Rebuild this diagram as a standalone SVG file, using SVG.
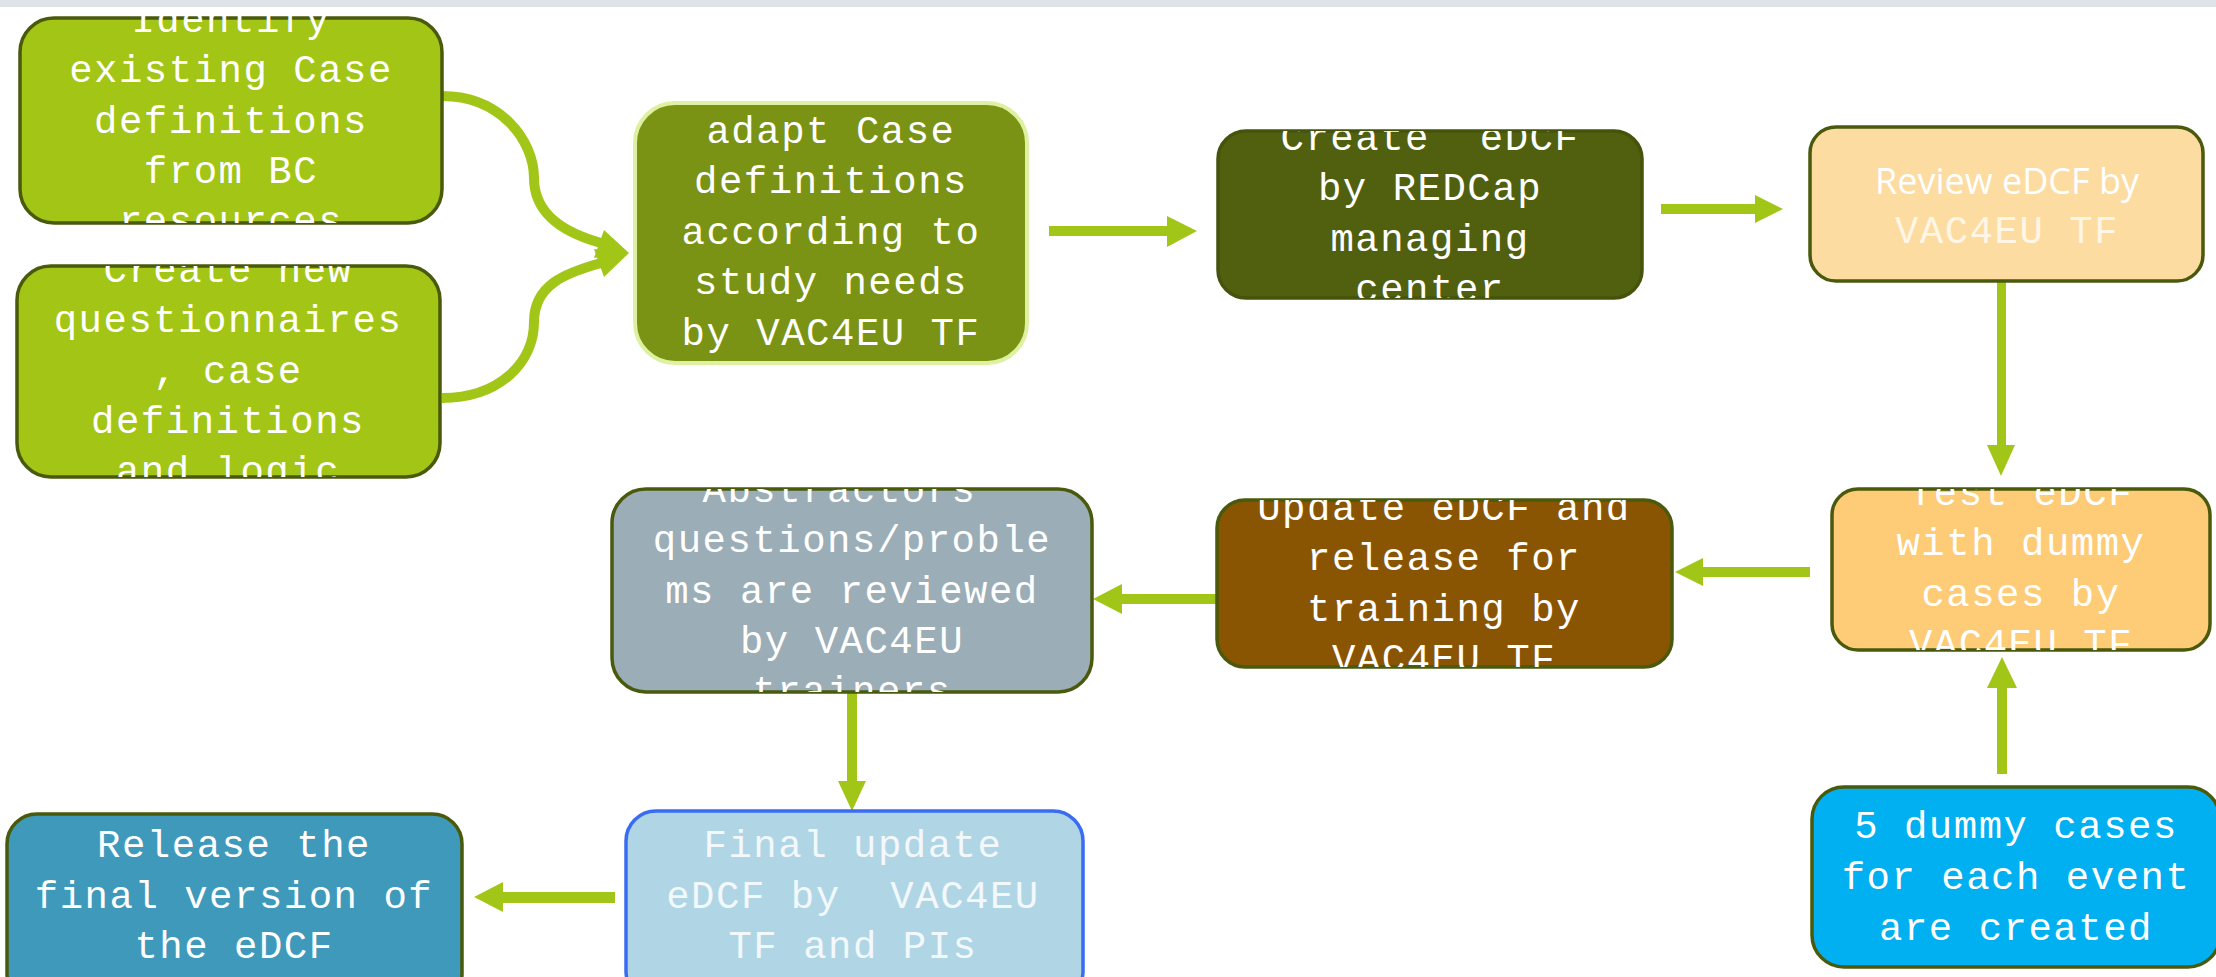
<svg xmlns="http://www.w3.org/2000/svg" width="2216" height="977" viewBox="0 0 2216 977">
<style>
.box{stroke:#4a5a0c;stroke-width:3.5}
.t{font-family:"Liberation Mono","Courier New",monospace;font-size:39px;letter-spacing:1.5px;fill:#ffffff;text-anchor:middle}
.s{font-family:"Open Sans","Liberation Sans",sans-serif;font-size:36px;fill:#ffffff;text-anchor:middle}
.arr{fill:#a2c617}
.crv{fill:none;stroke:#a2c617;stroke-width:10}
</style>
<defs>
<clipPath id="c1"><rect x="20" y="12" width="422" height="211"/></clipPath>
<clipPath id="c2"><rect x="17" y="266" width="423" height="211"/></clipPath>
<clipPath id="c3"><rect x="635" y="103" width="392" height="260"/></clipPath>
<clipPath id="c4"><rect x="1218" y="131" width="424" height="167"/></clipPath>
<clipPath id="c5"><rect x="1810" y="127" width="393" height="154"/></clipPath>
<clipPath id="c6"><rect x="1832" y="489" width="378" height="161"/></clipPath>
<clipPath id="c7"><rect x="1217" y="500" width="455" height="167"/></clipPath>
<clipPath id="c8"><rect x="612" y="489" width="480" height="203"/></clipPath>
</defs>
<rect x="0" y="0" width="2216" height="977" fill="#ffffff"/>
<rect x="0" y="0" width="2216" height="7" fill="#dde3e8"/>

<g id="connectors">
<path class="crv" d="M 442,96 C 500,96 534,140 534,178 C 534,215 565,233 601,243"/>
<polygon class="arr" points="629,253 594,258 604,230"/>
<path class="crv" d="M 442,398 C 500,398 534,362 534,322 C 534,285 565,273 601,263"/>
<polygon class="arr" points="629,253 604,277 594,249"/>
<rect class="arr" x="1049" y="226" width="120" height="10"/>
<polygon class="arr" points="1167,216 1197,231 1167,247"/>
<rect class="arr" x="1661" y="204" width="96" height="10"/>
<polygon class="arr" points="1755,195 1783,209 1755,223"/>
<rect class="arr" x="1997" y="281" width="9" height="166"/>
<polygon class="arr" points="1987,445 2001,476 2015,445"/>
<rect class="arr" x="1701" y="567" width="109" height="10"/>
<polygon class="arr" points="1703,558 1675,572 1703,586"/>
<rect class="arr" x="1120" y="594" width="97" height="10"/>
<polygon class="arr" points="1122,584 1093,599 1122,614"/>
<rect class="arr" x="847" y="693" width="10" height="90"/>
<polygon class="arr" points="838,781 852,811 866,781"/>
<rect class="arr" x="501" y="892" width="114" height="11"/>
<polygon class="arr" points="503,882 474,897 503,912"/>
<rect class="arr" x="1997" y="686" width="10" height="88"/>
<polygon class="arr" points="1987,688 2002,657 2017,688"/>
</g>

<g id="n1">
<rect class="box" x="20" y="18" width="422" height="205" rx="34" fill="#a3c516"/>
<g clip-path="url(#c1)">
<text class="t" x="231" y="32">Identify</text>
<text class="t" x="231" y="82">existing Case</text>
<text class="t" x="231" y="133">definitions</text>
<text class="t" x="231" y="183">from BC</text>
<text class="t" x="231" y="233">resources</text>
</g>
</g>

<g id="n2">
<rect class="box" x="17" y="266" width="423" height="211" rx="34" fill="#a3c516"/>
<g clip-path="url(#c2)">
<text class="t" x="228" y="282">Create new</text>
<text class="t" x="228" y="332">questionnaires</text>
<text class="t" x="228" y="383">, case</text>
<text class="t" x="228" y="433">definitions</text>
<text class="t" x="228" y="483">and logic</text>
</g>
</g>

<g id="n3">
<rect x="635" y="103" width="392" height="260" rx="40" fill="#7a9314" stroke="#def1a0" stroke-width="4"/>
<g clip-path="url(#c3)">
<text class="t" x="831" y="143">adapt Case</text>
<text class="t" x="831" y="193">definitions</text>
<text class="t" x="831" y="244">according to</text>
<text class="t" x="831" y="294">study needs</text>
<text class="t" x="831" y="345">by VAC4EU TF</text>
</g>
</g>

<g id="n4">
<rect x="1218" y="131" width="424" height="167" rx="28" fill="#50600f" stroke="#44540c" stroke-width="3.5"/>
<g clip-path="url(#c4)">
<text class="t" x="1430" y="150" xml:space="preserve">Create  eDCF</text>
<text class="t" x="1430" y="200">by REDCap</text>
<text class="t" x="1430" y="251">managing</text>
<text class="t" x="1430" y="301">center</text>
</g>
</g>

<g id="n5">
<rect class="box" x="1810" y="127" width="393" height="154" rx="26" fill="#fddca1"/>
<g clip-path="url(#c5)">
<text class="s" x="2007" y="194">Review eDCF by</text>
<text class="t" x="2007" y="243" style="fill:#fff6e6">VAC4EU TF</text>
</g>
</g>

<g id="n6">
<rect class="box" x="1832" y="489" width="378" height="161" rx="26" fill="#fecb77"/>
<g clip-path="url(#c6)">
<text class="t" x="2021" y="505">Test eDCF</text>
<text class="t" x="2021" y="555">with dummy</text>
<text class="t" x="2021" y="606">cases by</text>
<text class="t" x="2021" y="656">VAC4EU TF</text>
</g>
</g>

<g id="n7">
<rect class="box" x="1217" y="500" width="455" height="167" rx="28" fill="#8a5502"/>
<g clip-path="url(#c7)">
<text class="t" x="1444" y="520">Update eDCF and</text>
<text class="t" x="1444" y="570">release for</text>
<text class="t" x="1444" y="621">training by</text>
<text class="t" x="1444" y="671">VAC4EU TF</text>
</g>
</g>

<g id="n8">
<rect class="box" x="612" y="489" width="480" height="203" rx="34" fill="#9badb6"/>
<g clip-path="url(#c8)">
<text class="t" x="852" y="502">Abstractors'</text>
<text class="t" x="852" y="552">questions/proble</text>
<text class="t" x="852" y="603">ms are reviewed</text>
<text class="t" x="852" y="653">by VAC4EU</text>
<text class="t" x="852" y="703">trainers</text>
</g>
</g>

<g id="n9">
<rect x="626" y="811" width="457" height="190" rx="30" fill="#b0d6e5" stroke="#3a6cf2" stroke-width="3.5"/>
<text class="t" x="853" y="857" style="fill:#f2f8fb">Final update</text>
<text class="t" x="853" y="908" style="fill:#f2f8fb" xml:space="preserve">eDCF by  VAC4EU</text>
<text class="t" x="853" y="958" style="fill:#f2f8fb">TF and PIs</text>
</g>

<g id="n10">
<rect class="box" x="7" y="814" width="455" height="190" rx="30" fill="#3e99bb"/>
<text class="t" x="234" y="857">Release the</text>
<text class="t" x="234" y="908">final version of</text>
<text class="t" x="234" y="958">the eDCF</text>
</g>

<g id="n11">
<rect class="box" x="1812" y="787" width="408" height="180" rx="32" fill="#00b0f0"/>
<text class="t" x="2016" y="838">5 dummy cases</text>
<text class="t" x="2016" y="889">for each event</text>
<text class="t" x="2016" y="940">are created</text>
</g>
</svg>
